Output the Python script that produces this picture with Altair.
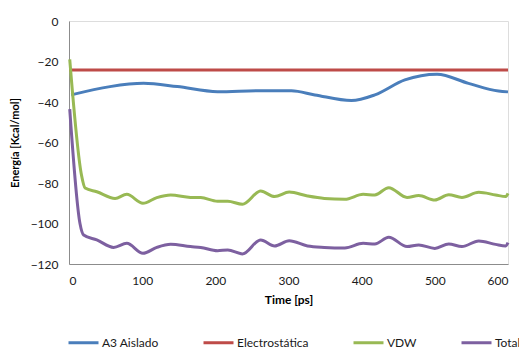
import altair as alt
import pandas as pd

series_names = ["A3 Aislado", "Electrostática", "VDW", "Total"]
series_colors = ["#4A7EBB", "#BE4B48", "#98B954", "#7D60A0"]

a3_time = [3, 56, 102, 148, 203, 262, 304, 336, 386, 418, 459, 503, 546, 587, 600]
a3_energy = [-36.5, -32.4, -30.8, -32.4, -34.9, -34.4, -34.5, -36.5, -39.3, -36.5,
             -29.1, -26.3, -30.8, -34.6, -35.0]

elec_time = [0, 600]
elec_energy = [-24.2, -24.2]

vdw_time = [1, 17, 22, 38, 63, 79, 101, 120, 139, 166, 180, 203, 217, 237, 262, 281,
            301, 326, 349, 377, 402, 418, 437, 462, 478, 500, 519, 537, 560, 583, 597, 600]
vdw_energy = [-19, -76, -82.5, -84.3, -87.6, -85.6, -90, -87.2, -85.9, -87.1, -87.2,
              -89, -89, -90.5, -84, -86.7, -84.5, -86.4, -87.6, -88, -85.6, -85.9,
              -82.3, -87.1, -86.2, -88.4, -85.8, -87.1, -84.6, -85.9, -86.7, -85.1]

total_time = [1, 15, 20, 38, 61, 79, 101, 120, 139, 166, 180, 203, 217, 237, 262, 281,
              301, 326, 349, 377, 402, 418, 437, 462, 478, 500, 519, 537, 560, 583, 597, 600]
total_energy = [-43.5, -100, -105.7, -108.1, -111.8, -109.8, -114.7, -111.8, -110.3,
                -111.4, -111.8, -113.4, -113.1, -115, -108.1, -111.1, -108.5, -111.1,
                -111.8, -112.1, -109.8, -110.1, -106.8, -111.4, -110.6, -112.3, -110.1,
                -111.4, -108.6, -110.3, -111.1, -109.5]

x_ticks = [0, 100, 200, 300, 400, 500, 600]
y_ticks = [0, -20, -40, -60, -80, -100, -120]

rows = []
for name, ts, es in [
    (series_names[0], a3_time, a3_energy),
    (series_names[1], elec_time, elec_energy),
    (series_names[2], vdw_time, vdw_energy),
    (series_names[3], total_time, total_energy),
]:
    for i, (t, e) in enumerate(zip(ts, es)):
        rows.append({"serie": name, "time": t, "energy": e, "order": i})
df = pd.DataFrame(rows)

font = "Lato"

chart = alt.Chart(df).mark_line(strokeWidth=3, interpolate="monotone").encode(
    x=alt.X("time:Q",
            scale=alt.Scale(domain=[0, 600], nice=False),
            axis=alt.Axis(values=x_ticks, title="Time [ps]", grid=False, ticks=False,
                          labelPadding=11, domainColor="#8C8C8C", labelFontSize=12,
                          labelColor="#1a1a1a", titleFontSize=12, titleFontWeight="bold",
                          titlePadding=8, labelFont=font, titleFont=font)),
    y=alt.Y("energy:Q",
            scale=alt.Scale(domain=[-120, 0], nice=False),
            axis=alt.Axis(values=y_ticks, title="Energía [Kcal/mol]", grid=False, ticks=False,
                          labelPadding=11, domainColor="#8C8C8C", labelFontSize=12,
                          labelColor="#1a1a1a", titleFontSize=11, titleFontWeight="bold",
                          titlePadding=10, labelFont=font, titleFont=font)),
    color=alt.Color("serie:N",
                    scale=alt.Scale(domain=series_names, range=series_colors),
                    sort=series_names,
                    legend=alt.Legend(orient="none", legendX=-2, legendY=305, direction="horizontal",
                                      columns=4, columnPadding=38, title=None,
                                      symbolType="stroke", symbolSize=900, symbolStrokeWidth=3,
                                      labelFontSize=12, labelFont=font, labelColor="#1a1a1a",
                                      labelOffset=2)),
    order="order:Q",
    detail="serie:N",
).properties(
    width=439,
    height=243,
    autosize=alt.AutoSizeParams(type="none"),
    padding={"left": 69, "top": 21, "right": 11, "bottom": 86},
).configure_view(stroke=None).configure(background="white")

chart.save("out.html", embed_options={"renderer": "svg", "actions": False})
